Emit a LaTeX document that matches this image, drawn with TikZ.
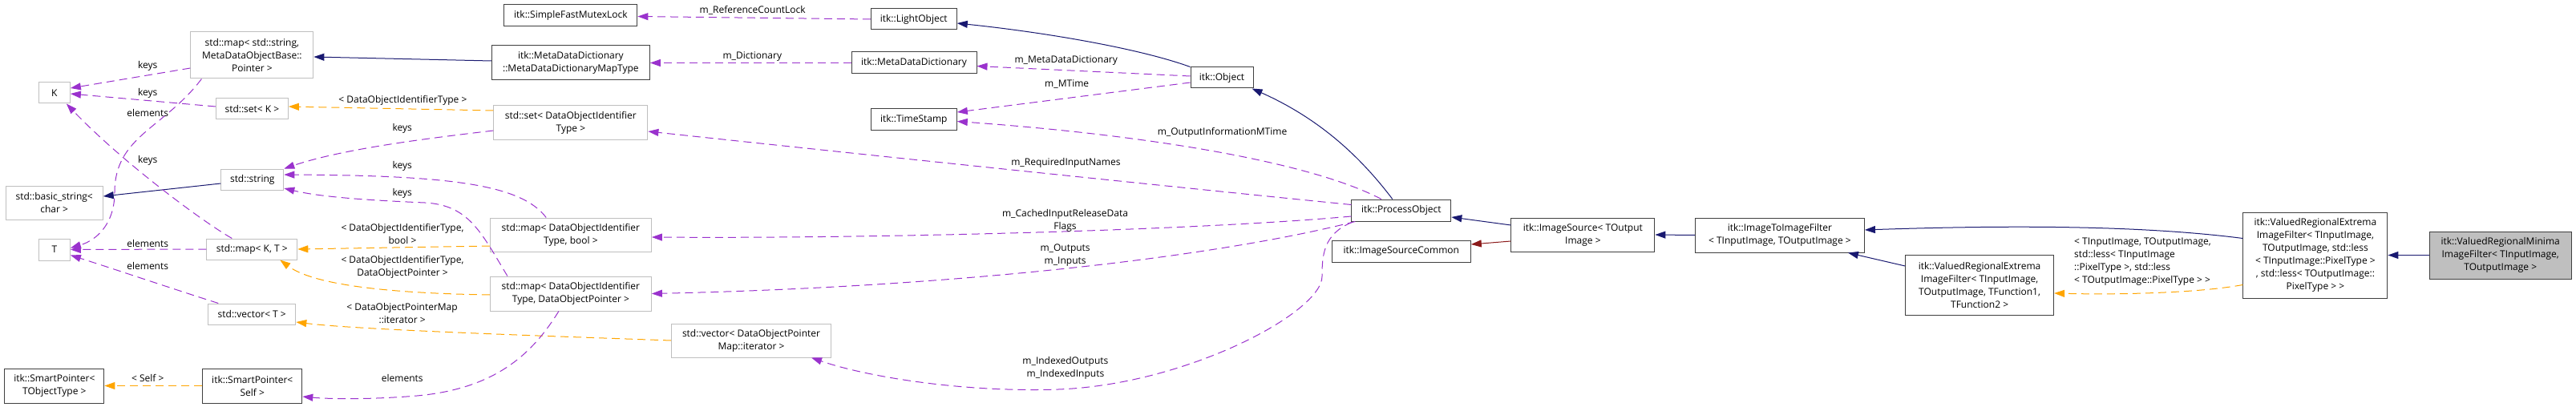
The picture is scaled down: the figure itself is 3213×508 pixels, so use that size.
\documentclass[tikz,border=0pt]{standalone}
\usepackage{fontspec}
\setmainfont{Open Sans}
\usetikzlibrary{positioning,arrows.meta,calc}
\definecolor{inhblue}{HTML}{191970}
\definecolor{usepurple}{HTML}{9A32CD}
\definecolor{tplorange}{HTML}{FFA500}
\definecolor{privred}{HTML}{8B1A1A}
\definecolor{undoc}{HTML}{BFBFBF}

\begin{document}
\begin{tikzpicture}[x=1pt,y=-1pt,>={Triangle[length=13pt,width=9pt]},
  font=\fontsize{12}{16}\selectfont,
  cls/.style={draw=black!75,line width=1pt,fill=white,inner sep=1pt,align=center},
  ext/.style={cls,draw=undoc},
  cur/.style={cls,fill=undoc},
  inh/.style={->,draw=inhblue,line width=1pt},
  priv/.style={->,draw=privred,line width=1pt},
  mem/.style={->,draw=usepurple,line width=1pt,dash pattern=on 10pt off 6pt},
  tpl/.style={->,draw=tplorange,line width=1pt,dash pattern=on 10pt off 6pt},
  lab/.style={align=center,inner sep=0pt}]
\useasboundingbox (0,0) rectangle (3213,508);
% std containers and helpers
\node[ext,minimum width=153,minimum height=58] (mapStrPtr) at (314.4,69) {std::map< std::string,\\ MetaDataObjectBase::\\Pointer >};
\node[ext,minimum width=39,minimum height=26] (K) at (67.9,116) {K};
\node[ext,minimum width=90,minimum height=26] (setK) at (314.4,136) {std::set< K >};
\node[ext,minimum width=78,minimum height=26] (str) at (314.8,224) {std::string};
\node[ext,minimum width=121,minimum height=42] (basicStr) at (67.7,253) {std::basic\_string<\\char >};
\node[ext,minimum width=39,minimum height=27] (T) at (67.9,311.5) {T};
\node[ext,minimum width=113,minimum height=26] (mapKT) at (314.3,311) {std::map< K, T >};
\node[ext,minimum width=109,minimum height=26] (vecT) at (314.3,392) {std::vector< T >};
\node[cls,minimum width=124,minimum height=43] (spObj) at (67.9,481.5) {itk::SmartPointer<\\ TObjectType >};
\node[cls,minimum width=124,minimum height=43] (spSelf) at (314.8,481.5) {itk::SmartPointer<\\Self >};
% second column
\node[cls,minimum width=166,minimum height=27] (mutex) at (711.9,19.5) {itk::SimpleFastMutexLock};
\node[cls,minimum width=197,minimum height=43] (mapType) at (711.9,78.5) {itk::MetaDataDictionary\\::MetaDataDictionaryMapType};
\node[ext,minimum width=192,minimum height=42] (setId) at (711.9,153) {std::set< DataObjectIdentifier\\Type >};
\node[ext,minimum width=201,minimum height=42] (mapBool) at (711.9,293) {std::map< DataObjectIdentifier\\Type, bool >};
\node[ext,minimum width=201,minimum height=43] (mapPtr) at (711.9,366.5) {std::map< DataObjectIdentifier\\Type, DataObjectPointer >};
\node[ext,minimum width=199,minimum height=42] (vecIt) at (937,425) {std::vector< DataObjectPointer\\Map::iterator >};
% itk objects
\node[cls,minimum width=107,minimum height=26] (light) at (1139.8,24) {itk::LightObject};
\node[cls,minimum width=156,minimum height=27] (mdd) at (1140,78.5) {itk::MetaDataDictionary};
\node[cls,minimum width=78,minimum height=26] (obj) at (1524,97) {itk::Object};
\node[cls,minimum width=107,minimum height=27] (stamp) at (1139.8,149.5) {itk::TimeStamp};
\node[cls,minimum width=124,minimum height=27] (proc) at (1747.8,262.5) {itk::ProcessObject};
\node[cls,minimum width=173,minimum height=27] (common) at (1747.8,313.5) {itk::ImageSourceCommon};
\node[cls,minimum width=179,minimum height=42] (src) at (1974.4,293) {itk::ImageSource< TOutput\\Image >};
\node[cls,minimum width=211,minimum height=43] (i2i) at (2219.9,293.5) {itk::ImageToImageFilter\\< TInputImage, TOutputImage >};
\node[cls,minimum width=185,minimum height=75] (extF) at (2469.1,355.5) {itk::ValuedRegionalExtrema\\ImageFilter< TInputImage,\\ TOutputImage, TFunction1,\\TFunction2 >};
\node[cls,minimum width=180,minimum height=107] (extL) at (2887.9,318.5) {itk::ValuedRegionalExtrema\\ImageFilter< TInputImage,\\ TOutputImage, std::less\\< TInputImage::PixelType >\\, std::less< TOutputImage::\\PixelType > >};
\node[cur,minimum width=177,minimum height=59] (minima) at (3118.7,318.5) {itk::ValuedRegionalMinima\\ImageFilter< TInputImage,\\TOutputImage >};
% inheritance
\draw[inh] (minima.west) -- (extL.east);
\draw[inh] ($(extL.west)+(0,-21)$) .. controls (2700,285) and (2560,279) .. ($(i2i.east)+(0,-6.5)$);
\draw[inh] ($(extF.west)+(0,-23.5)$) -- ($(i2i.south)+(85,0)$);
\draw[inh] (i2i.west) -- (src.east);
\draw[inh] ($(src.west)+(0,-12)$) -- ($(proc.east)+(0,8.5)$);
\draw[priv] ($(src.west)+(0,8)$) -- ($(common.east)+(0,-8.5)$);
\draw[inh] ($(proc.north)+(-11,0)$) .. controls (1700,200) and (1650,150) .. ($(obj.south east)+(-2,0)$);
\draw[inh] (obj.north west) .. controls (1420,60) and (1300,40) .. ($(light.east)+(0,5)$);
\draw[inh] ($(mapType.west)+(0,-2.5)$) -- ($(mapStrPtr.east)+(0,2)$);
\draw[inh] ($(str.west)+(0,5)$) -- ($(basicStr.east)+(0,-8)$);
% template instances
\draw[tpl] ($(extL.west)+(0,37)$) .. controls (2740,366) and (2640,368) .. ($(extF.east)+(0,10.5)$);
\draw[tpl] ($(setId.west)+(0,-15)$) -- ($(setK.east)+(0,-3)$);
\draw[tpl] ($(mapBool.west)+(0,14)$) -- (mapKT.east);
\draw[tpl] ($(mapPtr.west)+(0,1.5)$) .. controls (480,366) and (390,355) .. ($(mapKT.south east)+(-22,0)$);
\draw[tpl] (vecIt.west) .. controls (700,420) and (450,412) .. ($(vecT.east)+(0,10)$);
\draw[tpl] (spSelf.west) -- (spObj.east);
\node[lab] at (502.4,125) {< DataObjectIdentifierType >};
\node[lab] at (502,291.7) {< DataObjectIdentifierType,\\ bool >};
\node[lab] at (502,333.8) {< DataObjectIdentifierType,\\ DataObjectPointer >};
\node[lab] at (501.6,390.8) {< DataObjectPointerMap\\::iterator >};
\node[lab] at (184.3,471.7) {< Self >};
\node[lab,anchor=west,align=left] at (2587,327) {< TInputImage, TOutputImage,\\std::less< TInputImage\\::PixelType >, std::less\\ < TOutputImage::PixelType > >};
% members
\draw[mem] (light.west) -- ($(mutex.east)+(0,1)$);
\draw[mem] (mdd.west) -- (mapType.east);
\draw[mem] ($(obj.west)+(0,-2)$) -- ($(mdd.east)+(0,4)$);
\draw[mem] ($(obj.west)+(0,6)$) -- ($(stamp.east)+(0,-9.5)$);
\draw[mem] ($(proc.north)+(-25,0)$) .. controls (1640,205) and (1450,170) .. ($(stamp.east)+(0,2)$);
\draw[mem] ($(proc.west)+(0,-7)$) .. controls (1450,232) and (1050,190) .. ($(setId.east)+(0,11)$);
\draw[mem] ($(proc.west)+(0,7.5)$) .. controls (1500,287) and (1100,298) .. ($(mapBool.east)+(0,3)$);
\draw[mem] ($(proc.south west)+(5,0)$) .. controls (1520,320) and (1200,358) .. (mapPtr.east);
\draw[mem] ($(proc.south west)+(1,1)$) .. controls (1650,292) and (1649,320) .. (1649,345) .. controls (1649,390) and (1480,480) .. (1320,486) .. controls (1200,490) and (1080,470) .. ($(vecIt.south)+(75,0)$);
\draw[mem] ($(mapPtr.south)+(-15,0)$) .. controls (665,440) and (620,485) .. (520,494) .. controls (460,499) and (410,498) .. ($(spSelf.east)+(0,13.5)$);
\draw[mem] ($(setId.west)+(0,10)$) .. controls (540,172) and (430,185) .. (str.north east);
\draw[mem] ($(mapBool.north)+(-30.7,0)$) .. controls (650,230) and (560,219) .. ($(str.east)+(0,-6)$);
\draw[mem] ($(mapPtr.north)+(-79,0)$) .. controls (600,290) and (585,256) .. (530,253) .. controls (460,250) and (400,246) .. ($(str.east)+(0,11)$);
\draw[mem] ($(mapStrPtr.west)+(0,16)$) -- ($(K.east)+(0,-6)$);
\draw[mem] ($(setK.west)+(0,-3)$) -- ($(K.east)+(0,1)$);
\draw[mem] ($(mapStrPtr.south)+(-63,0)$) .. controls (205,160) and (143,170) .. (143,240) .. controls (143,280) and (120,300) .. ($(T.east)+(0,-2)$);
\draw[mem] ($(mapKT.north)+(-25,0)$) .. controls (250,275) and (150,200) .. ($(K.south)+(15,0)$);
\draw[mem] (mapKT.west) -- (T.east);
\draw[mem] ($(vecT.north)+(-42,0)$) .. controls (220,362) and (140,335) .. ($(T.east)+(0,7)$);
\foreach \y/\t in {82/keys,116/keys,141/elements,200/keys,304/elements,332/elements}
  \node[lab] at (184.2,\y) {\t};
\foreach \y/\t in {160/keys,207/keys,241/keys,471.7/elements}
  \node[lab] at (501.8,\y) {\t};
\node[lab] at (938.6,13) {m\_ReferenceCountLock};
\node[lab] at (938.3,71) {m\_Dictionary};
\node[lab] at (1329.7,76) {m\_MetaDataDictionary};
\node[lab] at (1330.7,105) {m\_MTime};
\node[lab] at (1524.5,165) {m\_OutputInformationMTime};
\node[lab] at (1329.4,203) {m\_RequiredInputNames};
\node[lab] at (1328.5,275.8) {m\_CachedInputReleaseData\\Flags};
\node[lab] at (1328.6,318.7) {m\_Outputs\\m\_Inputs};
\node[lab] at (1328.9,459.5) {m\_IndexedOutputs\\m\_IndexedInputs};
\end{tikzpicture}
\end{document}
